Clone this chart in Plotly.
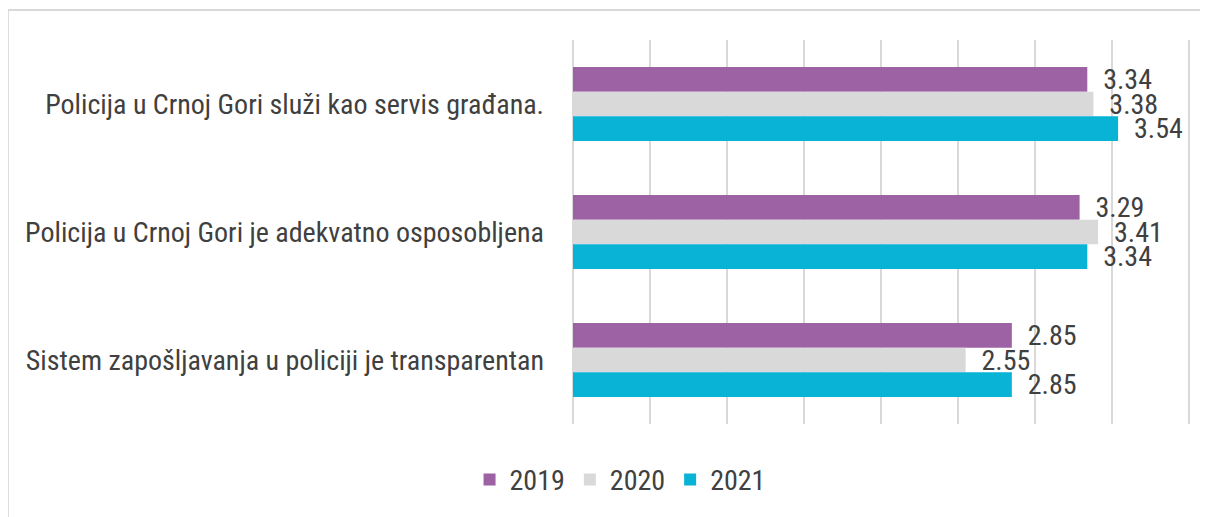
import plotly.graph_objects as go

categories = [
    "Policija u Crnoj Gori služi kao servis građana.",
    "Policija u Crnoj Gori je adekvatno osposobljena",
    "Sistem zapošljavanja u policiji je transparentan",
]
years = ["2019", "2020", "2021"]
v2019 = [3.34, 3.29, 2.85]
v2020 = [3.38, 3.41, 2.55]
v2021 = [3.54, 3.34, 2.85]
colors = ["#9C62A3", "#D9D9D9", "#08B3D6"]

FONT = "Liberation Sans Narrow, Roboto Condensed, Arial Narrow, sans-serif"
TXT = "#404040"

fig = go.Figure()
for name, vals, col in zip(years, [v2019, v2020, v2021], colors):
    fig.add_trace(go.Bar(
        y=categories, x=vals, name=name, orientation="h",
        marker=dict(color=col, line=dict(width=0)),
        text=[f"\u00a0\u00a0{v:.2f}" for v in vals], textposition="outside",
        textfont=dict(family=FONT, size=28, color=TXT),
        constraintext="none", cliponaxis=False,
    ))

# the page body has an 8px default margin, so the figure is 8px smaller
fig.update_layout(
    width=1200, height=509,
    margin=dict(l=565, r=16, t=32, b=90),
    paper_bgcolor="white", plot_bgcolor="white",
    barmode="group", bargap=0.42, bargroupgap=0,
    font=dict(family=FONT, size=28, color=TXT),
    showlegend=True,
    legend=dict(orientation="h", x=0.076, xanchor="center", y=-0.145, yanchor="middle",
                font=dict(family=FONT, size=28, color=TXT), traceorder="normal",
                itemwidth=30),
    xaxis=dict(range=[0, 4.02], dtick=0.5, showgrid=True, gridcolor="#D9D9D9", gridwidth=1.5,
               showticklabels=False, zeroline=True, zerolinecolor="#D9D9D9", zerolinewidth=1.5,
               showline=False, ticks=""),
    yaxis=dict(autorange="reversed", showgrid=False, zeroline=False, showline=False,
               ticks="", ticklabelstandoff=28,
               tickfont=dict(family=FONT, size=28, color=TXT)),
    shapes=[dict(type="rect", xref="paper", yref="paper",
                 x0=-0.913, x1=1.2, y0=-0.3, y1=1.078,
                 line=dict(color="#D9D9D9", width=2), fillcolor="rgba(0,0,0,0)", layer="below")],
)

fig.write_html("out.html")
